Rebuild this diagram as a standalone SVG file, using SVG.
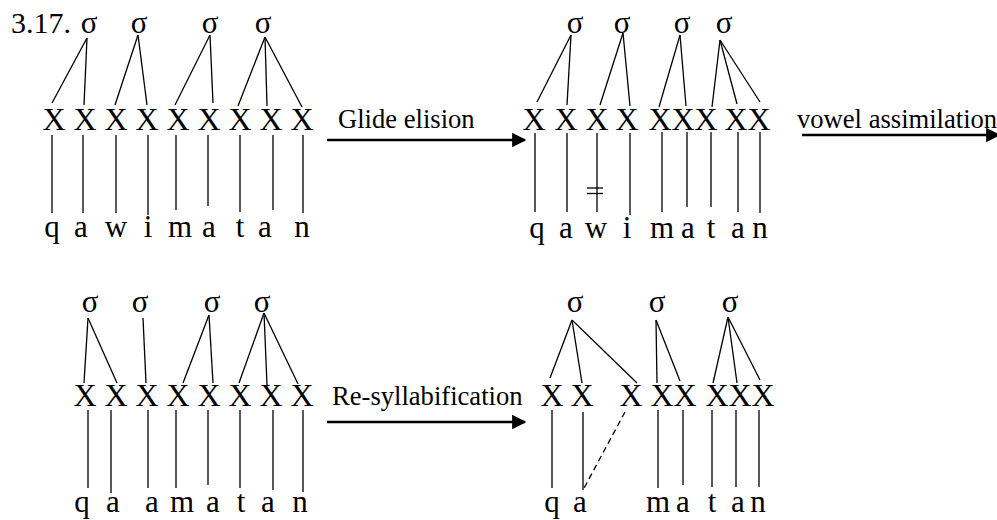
<svg xmlns="http://www.w3.org/2000/svg" width="997" height="520" viewBox="0 0 997 520">
  <style>
    text { font-family: 'Liberation Serif', 'Times New Roman', Times, 'DejaVu Serif', serif; fill: #000; }
    .sig { font-size: 31px; text-anchor: middle; }
    .x { font-size: 32px; text-anchor: middle; }
    .seg { font-size: 31px; text-anchor: middle; }
    .lbl { font-size: 26.6px; }
    .num { font-size: 30px; }
    .assoc line { stroke: #000; stroke-width: 1.3; }
    .dash { stroke: #000; stroke-width: 1.3; stroke-dasharray: 6 4; }
    .arrow { stroke: #000; stroke-width: 2.6; marker-end: url(#head); }
  </style>
  <defs>
    <marker id="head" viewBox="0 0 10 10" refX="9" refY="5" markerWidth="5.5" markerHeight="6" markerUnits="strokeWidth" orient="auto">
      <path d="M0,0 L10,5 L0,10 Z" fill="#000"/>
    </marker>
  </defs>

  <g font-family="'Liberation Serif', 'Times New Roman', Times, 'DejaVu Serif', serif">
  <text id="example-number" class="num" x="11" y="33">3.17.</text>

  <!-- Form 1: q a w i m a t a n -->
  <g id="form1">
    <g id="form1-syllables">
      <text class="sig" x="89" y="33">σ</text>
      <text class="sig" x="139" y="33">σ</text>
      <text class="sig" x="210" y="33">σ</text>
      <text class="sig" x="263" y="33">σ</text>
    </g>
    <g id="form1-skeleton">
      <text class="x" x="54" y="130">X</text>
      <text class="x" x="85" y="130">X</text>
      <text class="x" x="116" y="130">X</text>
      <text class="x" x="147" y="130">X</text>
      <text class="x" x="178" y="130">X</text>
      <text class="x" x="209" y="130">X</text>
      <text class="x" x="240" y="130">X</text>
      <text class="x" x="271" y="130">X</text>
      <text class="x" x="302" y="130">X</text>
    </g>
    <g id="form1-segments">
      <text class="seg" x="52" y="237">q</text>
      <text class="seg" x="81" y="237">a</text>
      <text class="seg" x="116" y="237">w</text>
      <text class="seg" x="148" y="237">i</text>
      <text class="seg" x="180" y="237">m</text>
      <text class="seg" x="209" y="237">a</text>
      <text class="seg" x="240" y="237">t</text>
      <text class="seg" x="265" y="237">a</text>
      <text class="seg" x="302" y="237">n</text>
    </g>
  </g>

  <!-- Form 2: after glide elision -->
  <g id="form2">
    <g id="form2-syllables">
      <text class="sig" x="575" y="33">σ</text>
      <text class="sig" x="622" y="33">σ</text>
      <text class="sig" x="682" y="33">σ</text>
      <text class="sig" x="724" y="33">σ</text>
    </g>
    <g id="form2-skeleton">
      <text class="x" x="534" y="130">X</text>
      <text class="x" x="566" y="130">X</text>
      <text class="x" x="597" y="130">X</text>
      <text class="x" x="627" y="130">X</text>
      <text class="x" x="660" y="130">X</text>
      <text class="x" x="683" y="130">X</text>
      <text class="x" x="706" y="130">X</text>
      <text class="x" x="736" y="130">X</text>
      <text class="x" x="759" y="130">X</text>
    </g>
    <g id="form2-segments">
      <text class="seg" x="537" y="238">q</text>
      <text class="seg" x="566" y="238">a</text>
      <text class="seg" x="596" y="238">w</text>
      <text class="seg" x="627" y="238">i</text>
      <text class="seg" x="662" y="238">m</text>
      <text class="seg" x="688" y="238">a</text>
      <text class="seg" x="711" y="238">t</text>
      <text class="seg" x="738" y="238">a</text>
      <text class="seg" x="760" y="238">n</text>
    </g>
  </g>

  <!-- Form 3: q a a m a t a n -->
  <g id="form3">
    <g id="form3-syllables">
      <text class="sig" x="90" y="312">σ</text>
      <text class="sig" x="140" y="312">σ</text>
      <text class="sig" x="212" y="312">σ</text>
      <text class="sig" x="262" y="312">σ</text>
    </g>
    <g id="form3-skeleton">
      <text class="x" x="85" y="406">X</text>
      <text class="x" x="116" y="406">X</text>
      <text class="x" x="147" y="406">X</text>
      <text class="x" x="178" y="406">X</text>
      <text class="x" x="209" y="406">X</text>
      <text class="x" x="240" y="406">X</text>
      <text class="x" x="271" y="406">X</text>
      <text class="x" x="302" y="406">X</text>
    </g>
    <g id="form3-segments">
      <text class="seg" x="82" y="512">q</text>
      <text class="seg" x="113" y="512">a</text>
      <text class="seg" x="152" y="512">a</text>
      <text class="seg" x="182" y="512">m</text>
      <text class="seg" x="213" y="512">a</text>
      <text class="seg" x="241" y="512">t</text>
      <text class="seg" x="268" y="512">a</text>
      <text class="seg" x="300" y="512">n</text>
    </g>
  </g>

  <!-- Form 4: after re-syllabification -->
  <g id="form4">
    <g id="form4-syllables">
      <text class="sig" x="575" y="312">σ</text>
      <text class="sig" x="657" y="312">σ</text>
      <text class="sig" x="730" y="312">σ</text>
    </g>
    <g id="form4-skeleton">
      <text class="x" x="552" y="406">X</text>
      <text class="x" x="582" y="406">X</text>
      <text class="x" x="631" y="406">X</text>
      <text class="x" x="662" y="406">X</text>
      <text class="x" x="685" y="406">X</text>
      <text class="x" x="717" y="406">X</text>
      <text class="x" x="740" y="406">X</text>
      <text class="x" x="763" y="406">X</text>
    </g>
    <g id="form4-segments">
      <text class="seg" x="552" y="512">q</text>
      <text class="seg" x="580" y="512">a</text>
      <text class="seg" x="658" y="512">m</text>
      <text class="seg" x="683" y="512">a</text>
      <text class="seg" x="712" y="512">t</text>
      <text class="seg" x="738" y="512">a</text>
      <text class="seg" x="758" y="512">n</text>
    </g>
  </g>

  <!-- Rule labels -->
  <g id="rule-labels">
    <text class="lbl" x="338" y="128">Glide elision</text>
    <text class="lbl" x="797" y="128">vowel assimilation</text>
    <text class="lbl" x="332" y="405">Re-syllabification</text>
  </g>
  </g>

  <!-- Association lines and derivation arrows -->
  <g id="connectors">
    <g class="assoc">
      <!-- form 1: syllable to skeleton -->
      <line x1="87" y1="38" x2="52" y2="103"/>
      <line x1="87" y1="38" x2="84" y2="105"/>
      <line x1="138" y1="35" x2="115" y2="105"/>
      <line x1="138" y1="35" x2="147" y2="105"/>
      <line x1="210" y1="35" x2="175" y2="105"/>
      <line x1="210" y1="35" x2="213" y2="103"/>
      <line x1="265" y1="37" x2="238" y2="106"/>
      <line x1="265" y1="37" x2="267" y2="106"/>
      <line x1="265" y1="37" x2="302" y2="107"/>
      <!-- form 1: skeleton to segments -->
      <line x1="52" y1="135" x2="52" y2="213"/>
      <line x1="83" y1="135" x2="83" y2="213"/>
      <line x1="116" y1="135" x2="116" y2="213"/>
      <line x1="148" y1="135" x2="148" y2="215"/>
      <line x1="176" y1="135" x2="176" y2="210"/>
      <line x1="208" y1="135" x2="208" y2="206"/>
      <line x1="240" y1="135" x2="240" y2="212"/>
      <line x1="273" y1="135" x2="273" y2="210"/>
      <line x1="303" y1="135" x2="303" y2="213"/>

      <!-- form 2: syllable to skeleton -->
      <line x1="571" y1="35" x2="537" y2="102"/>
      <line x1="571" y1="35" x2="567" y2="105"/>
      <line x1="623" y1="33" x2="600" y2="105"/>
      <line x1="623" y1="33" x2="630" y2="106"/>
      <line x1="680" y1="35" x2="659" y2="107"/>
      <line x1="680" y1="35" x2="686" y2="106"/>
      <line x1="720" y1="40" x2="712" y2="107"/>
      <line x1="720" y1="40" x2="737" y2="104"/>
      <line x1="720" y1="40" x2="760" y2="102"/>
      <!-- form 2: skeleton to segments -->
      <line x1="535" y1="133" x2="535" y2="212"/>
      <line x1="567" y1="133" x2="567" y2="212"/>
      <line x1="597" y1="133" x2="597" y2="212"/>
      <line x1="630" y1="133" x2="630" y2="215"/>
      <line x1="662" y1="132" x2="662" y2="212"/>
      <line x1="687" y1="132" x2="687" y2="207"/>
      <line x1="711" y1="132" x2="711" y2="207"/>
      <line x1="738" y1="132" x2="738" y2="212"/>
      <line x1="760" y1="132" x2="760" y2="213"/>
      <!-- delinking mark on the glide -->
      <line x1="587" y1="188" x2="603" y2="188"/>
      <line x1="587" y1="193.5" x2="603" y2="193.5"/>

      <!-- form 3: syllable to skeleton -->
      <line x1="88" y1="318" x2="84" y2="383"/>
      <line x1="88" y1="318" x2="117" y2="383"/>
      <line x1="143" y1="318" x2="146" y2="383"/>
      <line x1="209" y1="315" x2="183" y2="383"/>
      <line x1="209" y1="315" x2="213" y2="383"/>
      <line x1="264" y1="313" x2="239" y2="383"/>
      <line x1="264" y1="313" x2="267" y2="385"/>
      <line x1="264" y1="313" x2="298" y2="384"/>
      <!-- form 3: skeleton to segments -->
      <line x1="88" y1="410" x2="88" y2="488"/>
      <line x1="111" y1="410" x2="111" y2="493"/>
      <line x1="148" y1="410" x2="148" y2="488"/>
      <line x1="176" y1="410" x2="176" y2="488"/>
      <line x1="208" y1="410" x2="208" y2="485"/>
      <line x1="240" y1="410" x2="240" y2="488"/>
      <line x1="273" y1="410" x2="273" y2="490"/>
      <line x1="303" y1="410" x2="303" y2="492"/>

      <!-- form 4: syllable to skeleton -->
      <line x1="572" y1="320" x2="550" y2="378"/>
      <line x1="572" y1="320" x2="582" y2="383"/>
      <line x1="572" y1="320" x2="637" y2="383"/>
      <line x1="656" y1="320" x2="657" y2="383"/>
      <line x1="656" y1="320" x2="680" y2="381"/>
      <line x1="728" y1="317" x2="713" y2="383"/>
      <line x1="728" y1="317" x2="737" y2="383"/>
      <line x1="728" y1="317" x2="760" y2="380"/>
      <!-- form 4: skeleton to segments -->
      <line x1="552" y1="410" x2="552" y2="488"/>
      <line x1="583" y1="412" x2="583" y2="490"/>
      <line x1="658" y1="410" x2="658" y2="488"/>
      <line x1="683" y1="410" x2="683" y2="485"/>
      <line x1="712" y1="410" x2="712" y2="487"/>
      <line x1="736" y1="410" x2="736" y2="487"/>
      <line x1="759" y1="410" x2="759" y2="487"/>
    </g>
    <!-- spreading of the vowel to the freed slot -->
    <line class="dash" x1="625" y1="412" x2="583" y2="490"/>

    <!-- derivation arrows -->
    <line class="arrow" x1="327" y1="140" x2="525" y2="140"/>
    <line class="arrow" x1="802" y1="135" x2="999" y2="135"/>
    <line class="arrow" x1="327" y1="422" x2="525" y2="422"/>
  </g>
</svg>
